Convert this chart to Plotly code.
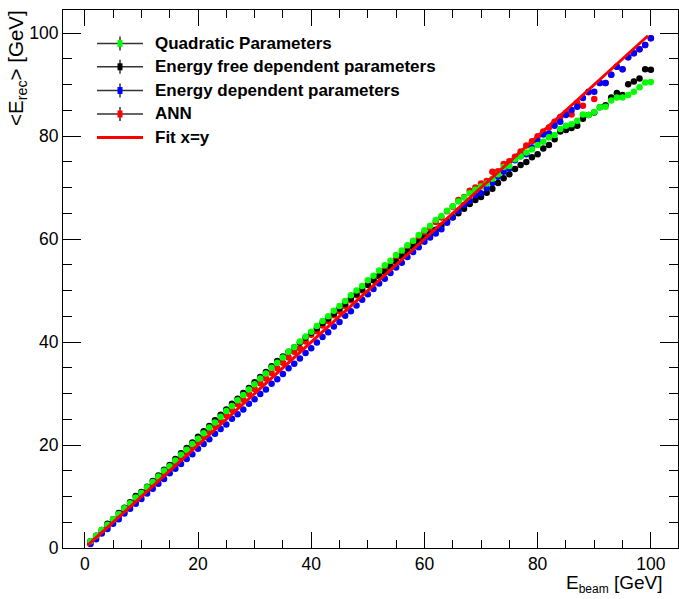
import plotly.graph_objects as go

# Beam energies (GeV)
e_beam = list(range(1, 101))

# Mean reconstructed energy per method (GeV)
quadratic = [
    1.3, 2.4, 3.5, 4.5, 5.6, 6.6, 7.7, 8.7, 9.8, 10.7,
    11.8, 12.8, 13.9, 15.0, 15.9, 17.0, 18.1, 19.1, 20.2, 21.2,
    22.3, 23.4, 24.4, 25.5, 26.6, 27.6, 28.7, 29.7, 30.8, 31.8,
    32.9, 33.9, 35.0, 36.0, 37.0, 38.1, 39.0, 40.1, 41.1, 42.0,
    43.1, 44.1, 45.0, 46.1, 47.0, 48.0, 49.1, 50.0, 50.9, 52.0,
    52.9, 53.9, 54.9, 55.8, 56.9, 57.8, 58.8, 59.7, 60.8, 61.7,
    62.6, 63.7, 64.5, 65.5, 66.4, 67.3, 68.1, 68.9, 69.6, 70.2,
    70.8, 71.7, 72.6, 74.0, 74.2, 75.5, 76.1, 76.8, 77.4, 78.3,
    78.9, 79.8, 80.2, 81.4, 82.0, 82.3, 83.0, 84.2, 84.1, 84.7,
    85.6, 85.7, 86.9, 87.5, 87.5, 88.0, 88.6, 89.5, 90.4, 90.5,
]

energy_free = [
    1.3, 2.4, 3.5, 4.7, 5.6, 6.8, 7.8, 8.9, 10.1, 10.9,
    11.9, 13.0, 14.1, 15.2, 16.1, 17.3, 18.4, 19.4, 20.5, 21.6,
    22.7, 23.7, 24.8, 25.9, 26.9, 28.0, 29.0, 30.1, 31.1, 32.2,
    33.2, 34.2, 35.3, 36.3, 37.2, 38.1, 39.0, 39.9, 40.9, 41.8,
    42.7, 43.7, 44.6, 45.5, 46.5, 47.4, 48.4, 49.3, 50.2, 51.1,
    52.0, 52.8, 53.6, 54.6, 55.6, 56.6, 57.6, 58.5, 59.4, 60.2,
    61.0, 61.8, 62.6, 63.4, 64.2, 65.0, 65.9, 66.8, 67.6, 68.2,
    69.0, 69.8, 70.9, 71.8, 72.6, 73.6, 74.4, 75.0, 75.9, 76.5,
    77.6, 78.3, 79.4, 80.9, 81.2, 81.6, 82.0, 83.4, 84.1, 84.6,
    85.6, 86.0, 87.5, 88.4, 88.0, 90.1, 90.6, 91.2, 93.0, 92.9,
]

energy_dependent = [
    0.8, 1.7, 2.8, 3.7, 4.7, 5.6, 6.7, 7.6, 8.6, 9.5,
    10.6, 11.5, 12.5, 13.4, 14.5, 15.4, 16.3, 17.3, 18.2, 19.3,
    20.2, 21.1, 22.2, 23.1, 24.0, 25.1, 26.0, 26.9, 28.0, 28.9,
    29.9, 30.8, 31.9, 32.8, 33.8, 34.9, 35.8, 36.8, 37.9, 38.8,
    39.9, 41.0, 41.9, 43.0, 43.9, 45.1, 46.0, 47.1, 48.2, 49.3,
    50.3, 51.4, 52.3, 53.4, 54.5, 55.4, 56.5, 57.5, 58.4, 59.5,
    60.3, 61.1, 61.9, 63.2, 64.3, 65.5, 66.6, 67.4, 68.5, 68.9,
    69.9, 70.9, 72.1, 73.1, 73.7, 75.3, 76.1, 76.5, 77.8, 79.1,
    80.3, 80.5, 82.0, 82.8, 84.1, 85.1, 85.7, 87.4, 88.6, 88.6,
    90.3, 90.3, 91.9, 93.5, 93.0, 95.3, 96.1, 96.9, 97.7, 99.0,
]

ann = [
    1.0, 2.1, 3.0, 4.1, 5.1, 6.2, 7.1, 8.2, 9.2, 10.3,
    11.2, 12.3, 13.3, 14.4, 15.4, 16.4, 17.5, 18.5, 19.6, 20.6,
    21.6, 22.7, 23.7, 24.7, 25.8, 26.8, 27.9, 28.8, 29.9, 30.9,
    32.0, 32.9, 34.0, 34.9, 36.0, 37.0, 38.1, 38.8, 40.1, 41.4,
    42.1, 43.2, 44.1, 45.2, 46.0, 47.0, 48.1, 49.1, 50.0, 51.2,
    52.0, 52.9, 54.0, 54.9, 56.1, 57.0, 58.2, 59.3, 60.2, 61.2,
    62.1, 63.3, 64.2, 65.4, 66.3, 67.6, 68.2, 69.4, 70.0, 70.8,
    71.3, 73.1, 73.2, 74.6, 75.1, 76.0, 77.0, 78.2, 79.0, 80.0,
    80.9, 81.7, 82.8, 83.7, 84.5, 84.2, 86.5, 85.9, 88.5, 87.2,
    90.3, 90.3, 91.9, 93.5, 93.0, 95.3, 96.1, 96.9, 97.7, 99.0,
]

# Straight-line reference x = y over the fitted range
fit_x = [0.5, 99.5]
fit_y = [0.5, 99.5]

legend_labels = [
    "Quadratic Parameters",
    "Energy free dependent parameters",
    "Energy dependent parameters",
    "ANN",
    "Fit x=y",
]
legend_colors = ["#00ff00", "#000000", "#0000ff", "#ff0000", "#ff0000"]

W, H = 679, 599
L, R, T, B = 63, 1, 10, 51
PW, PH = W - L - R, H - T - B

FONT = "Liberation Sans, Arial, sans-serif"

fig = go.Figure()

# drawing order: ANN, energy-free, energy-dependent, quadratic, fit line
for ys, col in [(ann, "#ff0000"), (energy_free, "#000000"),
                (energy_dependent, "#0000ff"), (quadratic, "#00ff00")]:
    fig.add_trace(go.Scatter(
        x=e_beam, y=ys, mode="markers",
        marker=dict(symbol="circle", size=6.5, color=col, line=dict(width=0)),
        showlegend=False, hoverinfo="skip",
    ))

fig.add_trace(go.Scatter(
    x=fit_x, y=fit_y, mode="lines",
    line=dict(color="#ff0000", width=3),
    showlegend=False, hoverinfo="skip",
))

tickfont = dict(family=FONT, size=17.5, color="black")

fig.update_xaxes(
    range=[-3.85, 104.8], showgrid=False, zeroline=False,
    showline=True, linecolor="black", linewidth=1, mirror="ticks",
    ticks="inside", ticklen=16, tickwidth=1, tickcolor="black",
    tick0=0, dtick=20, tickfont=tickfont,
    minor=dict(ticks="inside", ticklen=8, tickwidth=1, tickcolor="black", dtick=5),
)
fig.update_yaxes(
    range=[0, 104.5], showgrid=False, zeroline=False,
    showline=True, linecolor="black", linewidth=1, mirror="ticks",
    ticks="inside", ticklen=18, tickwidth=1, tickcolor="black",
    tick0=0, dtick=20, tickfont=tickfont,
    minor=dict(ticks="inside", ticklen=9, tickwidth=1, tickcolor="black", dtick=5),
)


def px_x(px):
    return (px - L) / PW


def px_y(py):
    return (H - B - py) / PH


shapes = []
annotations = []
row_y = [43.5, 66.8, 90.5, 114.0, 137.5]
for i, (label, col) in enumerate(zip(legend_labels, legend_colors)):
    yc = row_y[i]
    if i < 4:
        shapes.append(dict(type="line", xref="paper", yref="paper",
                           x0=px_x(97), x1=px_x(143), y0=px_y(yc), y1=px_y(yc),
                           line=dict(color="#333333", width=1.5)))
        shapes.append(dict(type="line", xref="paper", yref="paper",
                           x0=px_x(120), x1=px_x(120), y0=px_y(yc - 7), y1=px_y(yc + 7),
                           line=dict(color="#333333", width=1.5)))
        shapes.append(dict(type="rect", xref="paper", yref="paper",
                           x0=px_x(117.5), x1=px_x(122.5), y0=px_y(yc - 3.5), y1=px_y(yc + 3.5),
                           fillcolor=col, line=dict(width=0)))
    else:
        shapes.append(dict(type="line", xref="paper", yref="paper",
                           x0=px_x(97), x1=px_x(143), y0=px_y(yc), y1=px_y(yc),
                           line=dict(color=col, width=3)))
    annotations.append(dict(
        xref="paper", yref="paper", x=px_x(153), y=px_y(yc),
        xanchor="left", yanchor="middle", showarrow=False,
        text="<b>%s</b>" % label,
        font=dict(family=FONT, size=17, color="black"),
    ))

annotations.append(dict(
    xref="paper", yref="paper", x=1, y=0, xanchor="right", yanchor="top",
    xshift=-13, yshift=-22, showarrow=False,
    text='E<sub><span style="font-size:12px">beam</span></sub> [GeV]',
    font=dict(family=FONT, size=19, color="black"),
))
annotations.append(dict(
    xref="paper", yref="paper", x=(17 - L) / PW, y=1, xanchor="center", yanchor="top",
    yshift=2, showarrow=False, textangle=-90,
    text="&lt;E<sub>rec</sub>&gt; [GeV]",
    font=dict(family=FONT, size=20.5, color="black"),
))

fig.update_layout(
    width=W, height=H,
    margin=dict(l=L, r=R, t=T, b=B),
    paper_bgcolor="white", plot_bgcolor="white",
    showlegend=False,
    shapes=shapes, annotations=annotations,
)

fig.write_html("out.html")
